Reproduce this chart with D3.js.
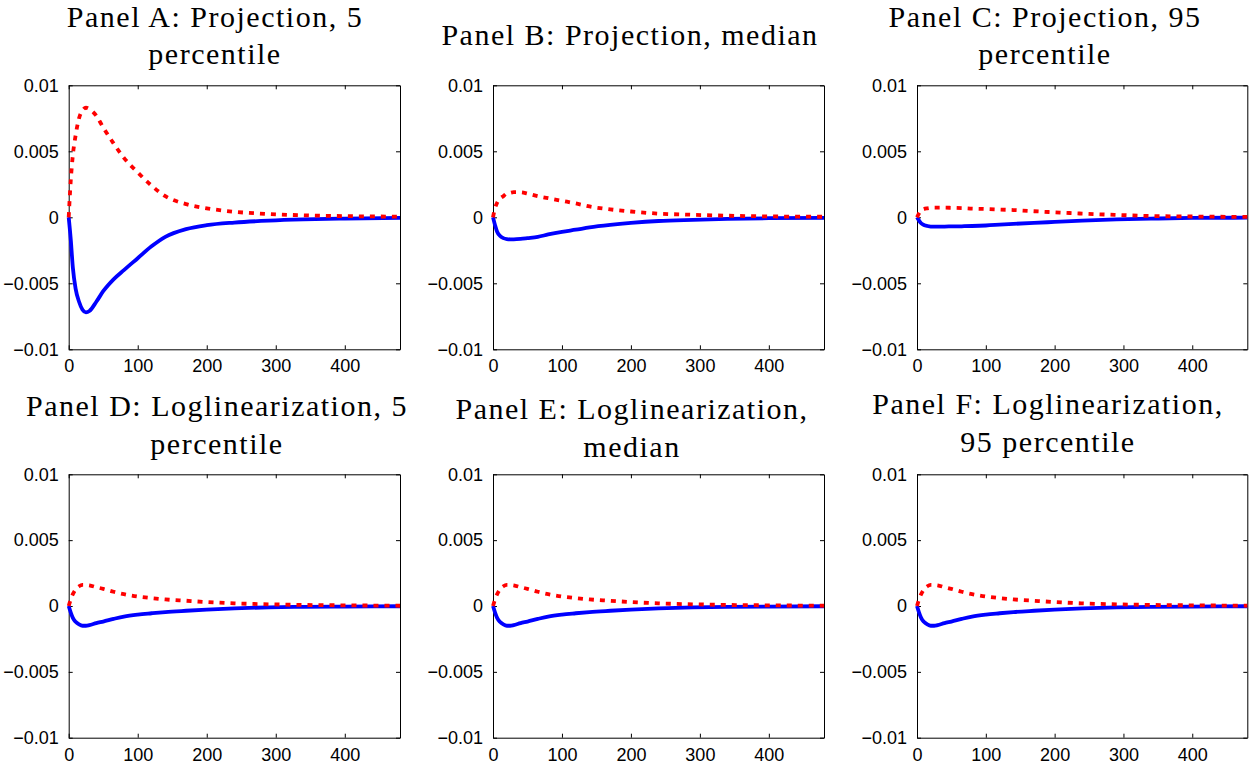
<!DOCTYPE html>
<html>
  <body style="margin:0;background:#fff">
    <style>
      .title { font-family: 'Liberation Serif', 'Times New Roman', serif; font-size: 30px; letter-spacing: 1.5px; fill: #000; }
      .tick text { font-family: 'Liberation Sans', Arial, sans-serif; font-size: 18px; fill: #000; }
      .domain, .tick line { stroke: #000; }
    </style>
    <script src="https://cdn.jsdelivr.net/npm/d3@7"></script>
    <script type="text/javascript">
      const width = 1251;
      const height = 765;

      const periods = [0, 3, 6, 10, 15, 20, 25, 30, 40, 50, 65, 80, 100, 120, 140, 170, 200, 240, 290, 340, 400, 480];

      const xTicks = [0, 100, 200, 300, 400];
      const yTicks = [-0.01, -0.005, 0, 0.005, 0.01];
      const yTickLabels = ['\u22120.01', '\u22120.005', '0', '0.005', '0.01'];

      // Panel A: projection, 5 percentile
      const redA = [0, 0.0028, 0.0047, 0.0062, 0.0075, 0.0081, 0.0083, 0.0082, 0.0077, 0.0068, 0.0056, 0.0045, 0.0034, 0.0024, 0.0016, 0.0010, 0.00068, 0.00042, 0.00025, 0.00015, 0.00009, 0.00005];
      const blueA = [0, -0.0017, -0.0038, -0.0054, -0.0064, -0.0070, -0.0072, -0.0071, -0.0064, -0.0056, -0.0047, -0.0040, -0.0031, -0.0022, -0.00148, -0.0009, -0.0006, -0.0004, -0.00025, -0.00016, -0.0001, -0.00005];
      // Panel B: projection, median
      const redB = [0, 0.0007, 0.0011, 0.0014, 0.0016, 0.0018, 0.00185, 0.0019, 0.0019, 0.0018, 0.0016, 0.00145, 0.00125, 0.00105, 0.00082, 0.0006, 0.00044, 0.00028, 0.00019, 0.00012, 0.00007, 0.00004];
      const blueB = [0, -0.0006, -0.0011, -0.0014, -0.00158, -0.00165, -0.00167, -0.00167, -0.00164, -0.00158, -0.00148, -0.0013, -0.0011, -0.00094, -0.00077, -0.00058, -0.00043, -0.00028, -0.00019, -0.00012, -0.00007, -0.00004];
      // Panel C: projection, 95 percentile
      const redC = [0, 0.0003, 0.00052, 0.00062, 0.00068, 0.00072, 0.00073, 0.00073, 0.00073, 0.00072, 0.0007, 0.00066, 0.00063, 0.00059, 0.00055, 0.00046, 0.00038, 0.00028, 0.00018, 0.0001, 0.00006, 0.00003];
      const blueC = [0, -0.00025, -0.00045, -0.00058, -0.00066, -0.0007, -0.0007, -0.0007, -0.0007, -0.00069, -0.00068, -0.00066, -0.00062, -0.00056, -0.0005, -0.00042, -0.00035, -0.00025, -0.00016, -0.0001, -0.00005, -0.00003];
      // Panel D: loglinearization, 5 percentile
      const redD = [0, 0.0005, 0.0009, 0.00125, 0.0015, 0.0016, 0.0016, 0.00157, 0.00143, 0.0013, 0.00108, 0.0009, 0.00072, 0.0006, 0.0005, 0.0004, 0.0003, 0.0002, 0.00013, 0.00008, 0.00005, 0.00002];
      const blueD = [0, -0.0005, -0.0009, -0.0012, -0.0014, -0.0015, -0.0015, -0.00145, -0.0013, -0.00118, -0.00098, -0.0008, -0.00065, -0.00055, -0.00046, -0.00036, -0.00027, -0.00018, -0.0001, -0.00006, -0.00004, -0.00002];
      // Panel E: loglinearization, median
      const redE = [0, 0.0005, 0.0009, 0.00125, 0.0015, 0.0016, 0.0016, 0.00157, 0.00143, 0.0013, 0.00108, 0.0009, 0.00072, 0.0006, 0.0005, 0.0004, 0.0003, 0.0002, 0.00013, 0.00008, 0.00005, 0.00002];
      const blueE = [0, -0.0005, -0.0009, -0.0012, -0.0014, -0.0015, -0.0015, -0.00145, -0.0013, -0.00118, -0.00098, -0.0008, -0.00065, -0.00055, -0.00046, -0.00036, -0.00027, -0.00018, -0.0001, -0.00006, -0.00004, -0.00002];
      // Panel F: loglinearization, 95 percentile
      const redF = [0, 0.0005, 0.0009, 0.00125, 0.0015, 0.0016, 0.0016, 0.00157, 0.00143, 0.0013, 0.00108, 0.0009, 0.00072, 0.0006, 0.0005, 0.0004, 0.0003, 0.0002, 0.00013, 0.00008, 0.00005, 0.00002];
      const blueF = [0, -0.0005, -0.0009, -0.0012, -0.0014, -0.0015, -0.0015, -0.00145, -0.0013, -0.00118, -0.00098, -0.0008, -0.00065, -0.00055, -0.00046, -0.00036, -0.00027, -0.00018, -0.0001, -0.00006, -0.00004, -0.00002];

      const panels = [
        { title: ['Panel A: Projection, 5', 'percentile'], red: redA, blue: blueA },
        { title: ['Panel B: Projection, median'], red: redB, blue: blueB },
        { title: ['Panel C: Projection, 95', 'percentile'], red: redC, blue: blueC },
        { title: ['Panel D: Loglinearization, 5', 'percentile'], red: redD, blue: blueD },
        { title: ['Panel E: Loglinearization,', 'median'], red: redE, blue: blueE },
        { title: ['Panel F: Loglinearization,', '95 percentile'], red: redF, blue: blueF },
      ];

      // plot boxes and title placement
      const cols = [[68.7, 400], [493, 824], [917, 1247.3]];
      const rows = [[85.3, 349.3], [474.3, 737.7]];
      const titleX = [215, 630, 1045, 217, 632, 1048];
      const titleY = [[27, 64], [45], [27, 64], [416, 454], [419, 457], [414, 452]];

      const svg = d3.select('body')
        .append('svg')
        .attr('width', width)
        .attr('height', height);

      function renderPanel(p, i) {
        const [x0, x1] = cols[i % 3];
        const [y0, y1] = rows[Math.floor(i / 3)];

        const x = d3.scaleLinear().domain([0, 480]).range([x0, x1]);
        const y = d3.scaleLinear().domain([-0.01, 0.01]).range([y1, y0]);

        const g = svg.append('g');

        // MATLAB-style box with inward ticks on every side
        g.append('g')
          .attr('transform', `translate(0,${y1})`)
          .call(d3.axisBottom(x).tickValues(xTicks).tickSizeInner(-4).tickSizeOuter(0).tickPadding(7))
          .call((a) => a.selectAll('text').attr('dy', '0.9em'));
        g.append('g')
          .attr('transform', `translate(0,${y0})`)
          .call(d3.axisTop(x).tickValues(xTicks).tickSizeInner(-4).tickSizeOuter(0).tickFormat(''));
        g.append('g')
          .attr('transform', `translate(${x0},0)`)
          .call(d3.axisLeft(y).tickValues(yTicks).tickSizeInner(-4).tickSizeOuter(0).tickPadding(10)
            .tickFormat((d, k) => yTickLabels[k]));
        g.append('g')
          .attr('transform', `translate(${x1},0)`)
          .call(d3.axisRight(y).tickValues(yTicks).tickSizeInner(-4).tickSizeOuter(0).tickFormat(''));

        const line = d3.line()
          .x((d) => x(d[0]))
          .y((d) => y(d[1]))
          .curve(d3.curveMonotoneX);

        g.append('path')
          .datum(periods.map((t, k) => [t, p.blue[k]]))
          .attr('fill', 'none')
          .attr('stroke', '#0000ff')
          .attr('stroke-width', 3.8)
          .attr('d', line);

        g.append('path')
          .datum(periods.map((t, k) => [t, p.red[k]]))
          .attr('fill', 'none')
          .attr('stroke', '#ff0000')
          .attr('stroke-width', 3.8)
          .attr('stroke-dasharray', '5,6')
          .attr('d', line);

        const t = svg.append('text')
          .attr('class', 'title')
          .attr('text-anchor', 'middle');
        p.title.forEach((s, k) => {
          t.append('tspan')
            .attr('x', titleX[i])
            .attr('y', titleY[i][k])
            .text(s);
        });
      }

      panels.forEach(renderPanel);
    </script>
  </body>
</html>
